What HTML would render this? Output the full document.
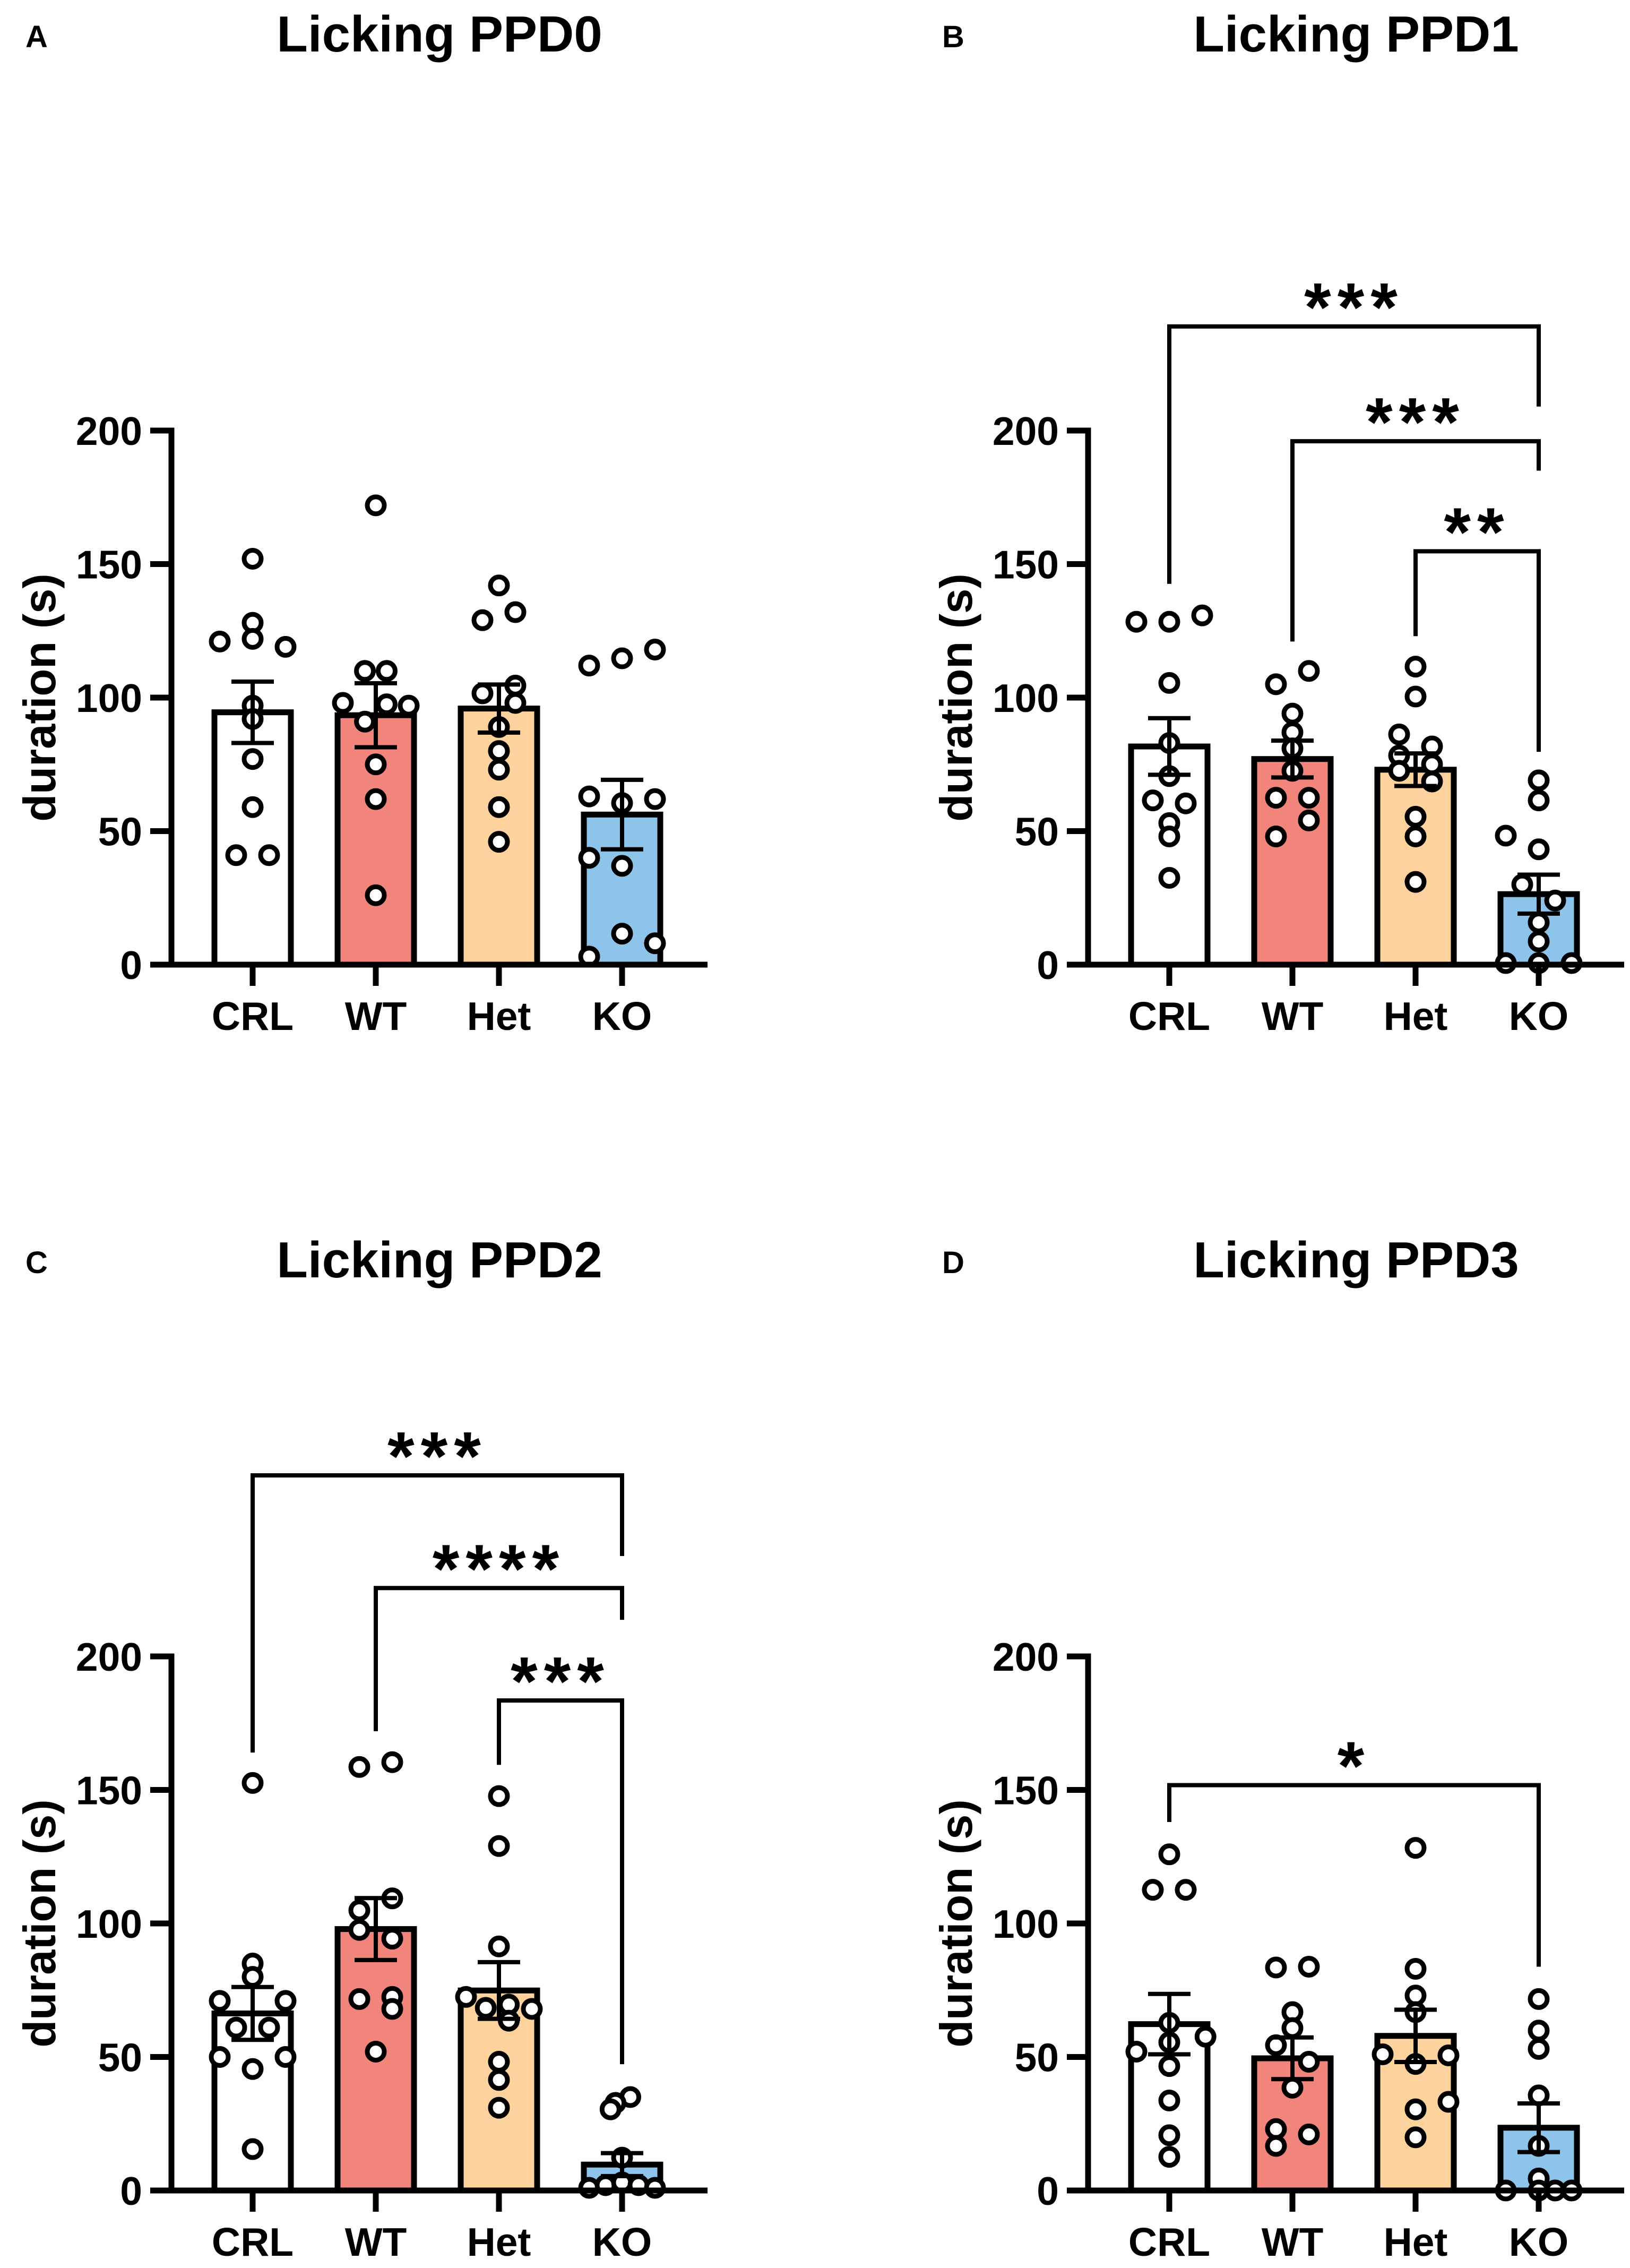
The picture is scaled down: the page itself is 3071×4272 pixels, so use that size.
<!DOCTYPE html>
<html><head><meta charset="utf-8"><style>
html,body{margin:0;padding:0;background:#fff;}
svg{display:block;}
text{font-family:"Liberation Sans",Arial,sans-serif;font-weight:bold;fill:#000;}
</style></head>
<body>
<svg id="fig" xmlns="http://www.w3.org/2000/svg" width="3071" height="4272" viewBox="0 0 3071 4272"></svg>
<script>
const categories = ["CRL","WT","Het","KO"];
const barColors = ["#ffffff","#f2857b","#fdd29c","#8ec4ea"];
const yTicks = [0,50,100,150,200];

const ppd0Means = [94.5,93.4,95.9,56.2];
const ppd0Sem = [11.5,12,9,13];
const ppd0Crl = [152,128,122,121,119,97,92,77,59,41,41];
const ppd0Wt = [172,110,110,98,97.5,97,91,75,62,26];
const ppd0Het = [142,129,132,104.5,101.6,98,89,80,73,59,46];
const ppd0Ko = [112,114.7,118,63,60.5,62,40,37,11.6,8,3];

const ppd1Means = [81.7,77,73,26.4];
const ppd1Sem = [10.6,6.9,6.1,7.3];
const ppd1Crl = [128.4,128.4,130.8,105.5,83,70.6,61.5,60.4,53,48,32.5];
const ppd1Wt = [105,110,94,87,81,72.6,62.5,62.5,54,48];
const ppd1Het = [111.6,100.4,86.2,81.7,78.3,75,72.6,68.6,55.4,48,31];
const ppd1Ko = [69,61.5,48.3,43.2,30,24,15.8,8.7,0.6,0.6,0.6];

const ppd2Means = [66.3,97.9,74.9,9.7];
const ppd2Sem = [9.9,11.6,10.6,4.3];
const ppd2Crl = [152.6,85,80,71,71,61,61,50,50,45.5,15.5];
const ppd2Wt = [158.6,160.4,109.4,104.9,97.6,94.3,71.7,72.5,68,52];
const ppd2Het = [147.7,129,91.4,72.5,68.4,69.6,68,63.6,48.2,41.4,31];
const ppd2Ko = [35,32.8,30.4,12.3,1,2,3,2,1];

const ppd3Means = [62.3,49.5,57.9,23.5];
const ppd3Sem = [11.3,7.8,9.8,9.1];
const ppd3Crl = [125.9,112.6,112.6,62.8,57.6,55.5,52,46.6,33.7,20.7,12.6];
const ppd3Wt = [83.5,83.8,66.8,60.8,54.4,48.2,38.5,23,21,16.7];
const ppd3Het = [128.3,83,73,66.8,51,50.6,47.4,33.2,30.4,19.9];
const ppd3Ko = [71.7,59.9,53,35.6,16.7,4.5,0,0,0,0];

// significance brackets: [fromGroup, toGroup, barY, leftLegEnd, rightLegEnd]
const ppd1Brackets = [[0,3,239,142.6,209],[1,3,196,121,185],[2,3,154.8,123,79.7]];
const ppd1Stars = ["***","***","**"];
const ppd2Brackets = [[0,3,267.8,164,237.6],[1,3,225.6,172,213.7],[2,3,183.5,159.4,47.3]];
const ppd2Stars = ["***","****","***"];
const ppd3Brackets = [[0,3,151.8,138,83.8]];
const ppd3Stars = ["*"];

// layout (jitter = horizontal dot spread, in units of 62px)
const jit0 = [[0,0,0,-1,1,0,0,0,0,-0.5,0.5],[0,-0.33,0.33,-1,0.33,1,-0.33,0,0,0],[0,-0.5,0.5,0.5,-0.5,0.5,0,0,0,0,0],[-1,0,1,-1,0,1,-1,0,0,1,-1]];
const jit1 = [[-1,0,1,0,0,0,-0.5,0.5,0,0,0],[-0.5,0.5,0,0,0,0,-0.5,0.5,0.5,-0.5],[0,0,-0.5,0.5,-0.5,0.5,-0.5,0.5,0,0,0],[0,0,-1,0,-0.5,0.5,0,0,-1,0,1]];
const jit2 = [[0,0,0,-1,1,-0.5,0.5,-1,1,0,0],[-0.5,0.5,0.5,-0.5,-0.5,0.5,-0.5,0.5,0.5,0],[0,0,0,-1,-0.4,0.3,1,0.3,0,0,0],[0.25,-0.2,-0.35,0,-1,-0.5,0,0.5,1]];
const jit3 = [[0,-0.5,0.5,0,1.1,0,-1,0,0,0,0],[-0.5,0.5,0,0,-0.5,0.5,0,-0.5,0.5,-0.5],[0,0,0,0,-1,1,0,1,0,0],[0,0,0,0,0,0,-1,0,0.5,1]];

const NS = "http://www.w3.org/2000/svg";
const svg = document.getElementById('fig');
function mk(tag, attrs, parent){
  const e = document.createElementNS(NS, tag);
  for (const k in attrs) e.setAttribute(k, attrs[k]);
  (parent||svg).appendChild(e);
  return e;
}

const panels = [
  {letter:"A", title:"Licking PPD0", ax:323, y0:1817, means:ppd0Means, sem:ppd0Sem, pts:[ppd0Crl,ppd0Wt,ppd0Het,ppd0Ko], jit:jit0, br:[], stars:[]},
  {letter:"B", title:"Licking PPD1", ax:2050, y0:1817, means:ppd1Means, sem:ppd1Sem, pts:[ppd1Crl,ppd1Wt,ppd1Het,ppd1Ko], jit:jit1, br:ppd1Brackets, stars:ppd1Stars},
  {letter:"C", title:"Licking PPD2", ax:323, y0:4126, means:ppd2Means, sem:ppd2Sem, pts:[ppd2Crl,ppd2Wt,ppd2Het,ppd2Ko], jit:jit2, br:ppd2Brackets, stars:ppd2Stars},
  {letter:"D", title:"Licking PPD3", ax:2050, y0:4126, means:ppd3Means, sem:ppd3Sem, pts:[ppd3Crl,ppd3Wt,ppd3Het,ppd3Ko], jit:jit3, br:ppd3Brackets, stars:ppd3Stars}
];

const PXU = 5.03;
panels.forEach(function(p){
  const g = mk('g', {});
  
  
  const ys = function(v){ return p.y0 - v*PXU; };
  const xs = function(i){ return p.ax + 153 + 232*i; };

  const lab = mk('text', {x:p.ax-275, y:p.y0-1728, 'font-size':58}, g);
  lab.textContent = p.letter;
  
  

  const tt = mk('text', {x:p.ax+505, y:p.y0-1720, 'font-size':96, 'text-anchor':'middle'}, g);
  tt.textContent = p.title;
  
  

  const yt = mk('text', {transform:'translate('+(p.ax-219)+','+(p.y0-503)+') rotate(-90)', 'font-size':85, 'text-anchor':'middle'}, g);
  yt.textContent = 'duration (s)';
  
  

  p.means.forEach(function(m, i){
    const r = mk('rect', {x:xs(i)-72, y:ys(m), width:144, height:p.y0-ys(m), fill:barColors[i], stroke:'#000', 'stroke-width':11}, g);
    
    
  });
  p.pts.forEach(function(arr, i){
    arr.forEach(function(v, k){
      const c = mk('circle', {cx:xs(i) + 62*(p.jit[i][k]||0), cy:ys(v), r:16, fill:'#fff', stroke:'#000', 'stroke-width':9}, g);
      
      
    });
  });
  p.means.forEach(function(m, i){
    const eg = mk('g', {stroke:'#000', 'stroke-width':8, fill:'none'}, g);
    
    
    const hi = ys(m + p.sem[i]), lo = ys(m - p.sem[i]);
    mk('line', {x1:xs(i), x2:xs(i), y1:hi, y2:lo}, eg);
    mk('line', {x1:xs(i)-40, x2:xs(i)+40, y1:hi, y2:hi}, eg);
    mk('line', {x1:xs(i)-40, x2:xs(i)+40, y1:lo, y2:lo}, eg);
  });
  const axg = mk('g', {stroke:'#000', 'stroke-width':11, fill:'none', 'stroke-linecap':'square'}, g);
  
  
  mk('line', {x1:p.ax, x2:p.ax, y1:ys(200), y2:p.y0}, axg);
  mk('line', {x1:p.ax-40, x2:p.ax+1010, y1:p.y0, y2:p.y0, 'stroke-linecap':'butt'}, axg);
  yTicks.forEach(function(t){
    mk('line', {x1:p.ax-40, x2:p.ax, y1:ys(t), y2:ys(t), 'stroke-linecap':'butt'}, axg);
    const tl = mk('text', {x:p.ax-55, y:ys(t)+27, 'font-size':75, 'text-anchor':'end'}, g);
    tl.textContent = String(t);
    
    
  });
  categories.forEach(function(c, i){
    mk('line', {x1:xs(i), x2:xs(i), y1:p.y0, y2:p.y0+40, 'stroke-linecap':'butt'}, axg);
    const cl = mk('text', {x:xs(i), y:p.y0+123, 'font-size':75, 'text-anchor':'middle'}, g);
    cl.textContent = c;
    
    
  });
  p.br.forEach(function(b, j){
    const bg = mk('g', {}, g);
    
    
    const xa = xs(b[0]), xb = xs(b[1]);
    mk('polyline', {points: xa+','+ys(b[3])+' '+xa+','+ys(b[2])+' '+xb+','+ys(b[2])+' '+xb+','+ys(b[4]), fill:'none', stroke:'#000', 'stroke-width':8}, bg);
    const st = mk('text', {x:(xa+xb)/2, y:ys(b[2]+13)+74, 'font-size':130, 'font-weight':'normal', 'text-anchor':'middle', 'letter-spacing':12}, bg);
    st.textContent = p.stars[j];
    
    
  });
});
</script>
</body></html>
